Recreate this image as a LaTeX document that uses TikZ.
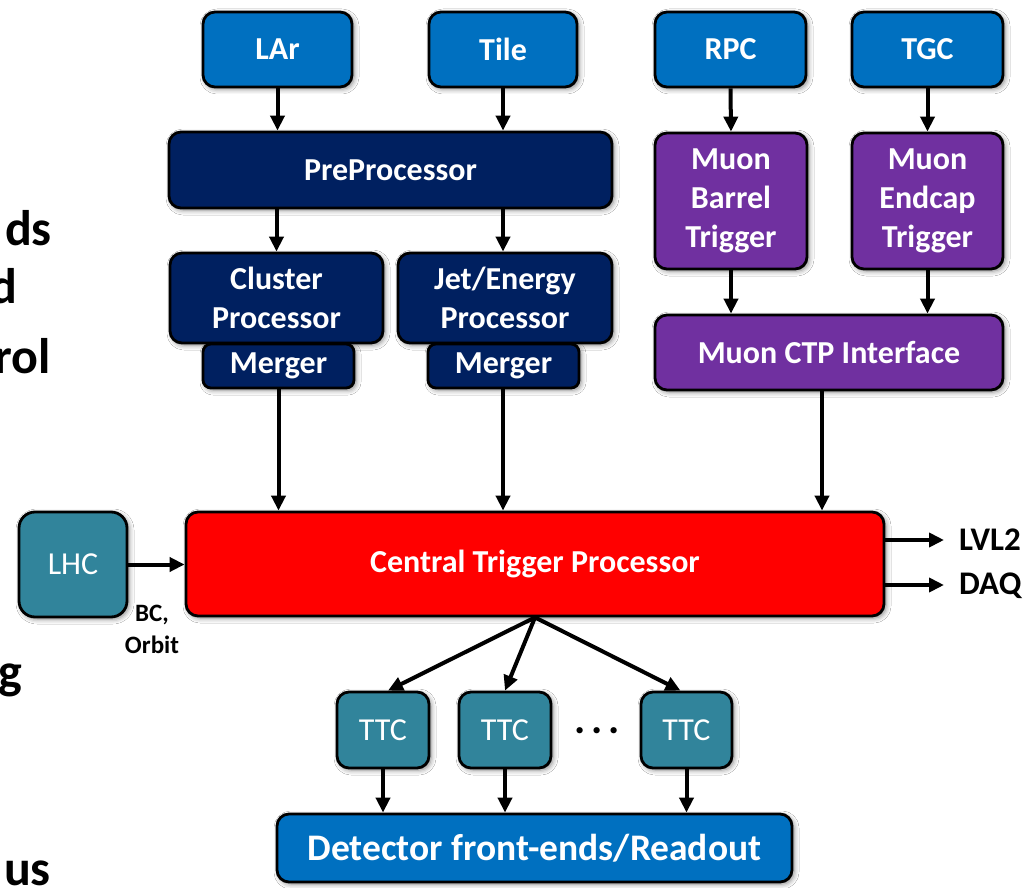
\documentclass[tikz,border=0pt]{standalone}
\usepackage{fontspec}
\setmainfont{Carlito}
\usetikzlibrary{arrows.meta,shadows.blur}
\definecolor{cblue}{HTML}{0070C0}
\definecolor{cnavy}{HTML}{002060}
\definecolor{cpurple}{HTML}{7030A0}
\definecolor{cred}{HTML}{FF0000}
\definecolor{cteal}{HTML}{31849B}
\tikzset{
  box/.style={draw=black, line width=2.8pt, rounded corners=12pt, text=white,
    font=\fontsize{32}{38.5}\selectfont\bfseries, align=center, inner sep=0pt,
    blur shadow={shadow xshift=2pt, shadow yshift=-2pt, shadow blur radius=5pt, shadow opacity=50}},
  bluebox/.style={box, fill=cblue},
  navybox/.style={box, fill=cnavy},
  purplebox/.style={box, fill=cpurple, font=\fontsize{32}{39}\selectfont\bfseries},
  redbox/.style={box, fill=cred},
  tealbox/.style={box, fill=cteal, font=\fontsize{32}{36}\selectfont},
  conn/.style={line width=4pt, -{Triangle[length=15pt,width=14pt]}},
  sidetext/.style={font=\fontsize{33}{36}\selectfont\bfseries, text=black},
  cuttext/.style={font=\fontsize{50}{60}\selectfont\bfseries, text=black, anchor=base east, inner sep=0pt},
}
\begin{document}
\begin{tikzpicture}[x=1pt,y=-1pt]
\clip (0,0) rectangle (1026,888);
\fill[white] (0,0) rectangle (1026,888);

% slide text cut at the left edge, as in the reference
\node[cuttext] (t1) at (52,245) {ds};
\node[cuttext] (t2) at (18,303) {d};
\node[cuttext] (t3) at (51,373) {rol};
\node[cuttext] (t4) at (22,688) {g};
\node[cuttext] (t5) at (51,885) {us};

% top row
\node[bluebox, minimum width=149pt, minimum height=75pt] (lar) at (277.5,49.5) {LAr};
\node[bluebox, minimum width=148pt, minimum height=75pt] (tile) at (503,49.5) {Tile};
\node[bluebox, minimum width=151pt, minimum height=75pt] (rpc) at (730.5,49.5) {RPC};
\node[bluebox, minimum width=151pt, minimum height=75pt] (tgc) at (927.5,49.5) {TGC};

% calorimeter chain
\node[navybox, minimum width=443pt, minimum height=76pt] (pre) at (390.5,170) {PreProcessor};
\node[navybox, minimum width=213pt, minimum height=90pt] (clu) at (276.5,298) {Cluster\\Processor};
\node[navybox, minimum width=214pt, minimum height=90pt] (jet) at (505,298) {Jet/Energy\\Processor};
\node[navybox, rounded corners=8pt, minimum width=151pt, minimum height=44pt] (mgl) at (278.5,366) {Merger};
\node[navybox, rounded corners=8pt, minimum width=151pt, minimum height=44pt] (mgr) at (503.5,366) {Merger};

% muon chain
\node[purplebox, minimum width=152pt, minimum height=136pt] (mbt) at (731,201) {Muon\\Barrel\\Trigger};
\node[purplebox, minimum width=151pt, minimum height=136pt] (met) at (927.5,201) {Muon\\Endcap\\Trigger};
\node[purplebox, minimum width=348pt, minimum height=75pt] (mctp) at (829,352.5) {Muon CTP Interface};

% central
\node[redbox, minimum width=698pt, minimum height=104pt] (ctp) at (535,564) {Central Trigger Processor};
\node[tealbox, rounded corners=16pt, minimum width=108pt, minimum height=105pt] (lhc) at (73,564.5) {LHC};

% TTC
\node[tealbox, minimum width=92pt, minimum height=76pt] (ttc1) at (383,730) {TTC};
\node[tealbox, minimum width=92pt, minimum height=76pt] (ttc2) at (505,730) {TTC};
\node[tealbox, minimum width=91pt, minimum height=76pt] (ttc3) at (686.5,730) {TTC};
\node[font=\fontsize{42}{42}\selectfont\bfseries, text=black, anchor=base, inner sep=0pt] (dots) at (597,733) {.\hspace{6pt}.\hspace{6pt}.};

\node[bluebox, minimum width=515pt, minimum height=68pt, font=\fontsize{37.5}{40}\selectfont\bfseries] (det) at (534.5,848) {Detector front-ends/Readout};

% connectors top
\draw[conn] (lar.south) -- (lar.south |- pre.north);
\draw[conn] (tile.south) -- (tile.south |- pre.north);
\draw[conn] (clu.north |- pre.south) -- (clu.north);
\draw[conn] (tile.south |- pre.south) -- (tile.south |- jet.north);
\draw[conn] (mgl.south) -- (mgl.south |- ctp.north);
\draw[conn] (tile.south |- mgr.south) -- (tile.south |- ctp.north);

\draw[conn] (rpc.south) -- (mbt.north);
\draw[conn] (tgc.south) -- (met.north);
\draw[conn] (mbt.south) -- (mbt.south |- mctp.north);
\draw[conn] (met.south) -- (met.south |- mctp.north);
\draw[conn] ([xshift=-7pt]mctp.south) -- ([xshift=-7pt]mctp.south |- ctp.north);

% LHC
\draw[conn] (lhc.east) -- (lhc.east -| ctp.west);
\node[font=\fontsize{25}{32}\selectfont\bfseries, text=black, align=center] (bco) at (152,629) {BC,\\Orbit};

% outputs
\coordinate (lvl2end) at (944,540);
\coordinate (daqend) at (944,585);
\draw[conn] (lvl2end -| ctp.east) -- (lvl2end);
\draw[conn] (daqend -| ctp.east) -- (daqend);
\node[sidetext, anchor=west, inner sep=0pt] (lvl2) at (959,540) {LVL2};
\node[sidetext, anchor=west, inner sep=0pt] (daq) at (959,586) {DAQ};

% TTC fan-out
\draw[conn] (ctp.south) -- ([xshift=5pt]ttc1.north);
\draw[conn] (ctp.south) -- (ttc2.north);
\draw[conn] (ctp.south) -- ([xshift=-6pt]ttc3.north);
\draw[conn] (ttc1.south) -- (ttc1.south |- det.north);
\draw[conn] (ttc2.south) -- (ttc2.south |- det.north);
\draw[conn] (ttc3.south) -- (ttc3.south |- det.north);
\end{tikzpicture}
\end{document}
